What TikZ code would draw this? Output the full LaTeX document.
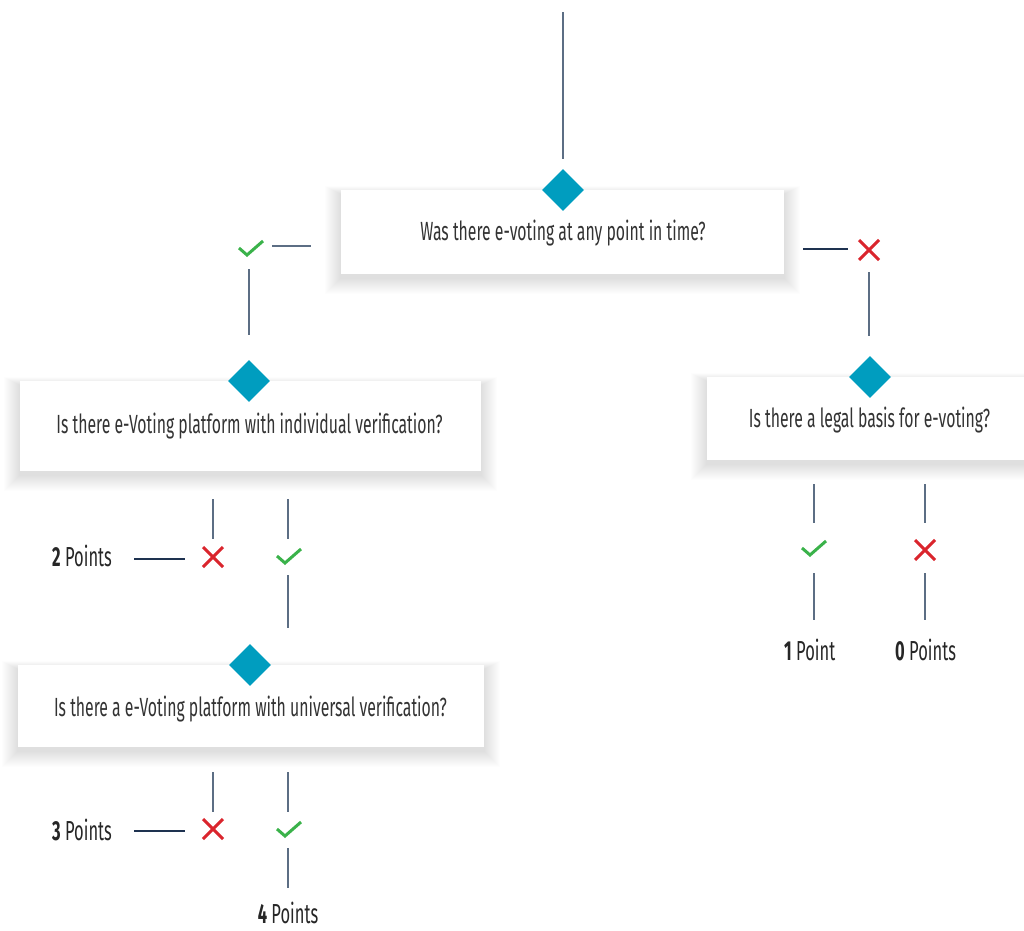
\documentclass[tikz,border=0pt]{standalone}
\usepackage{fontspec}
\setmainfont[FakeStretch=0.6]{Fira Sans}
\usetikzlibrary{shapes.geometric}
\definecolor{teal}{RGB}{0,157,191}
\definecolor{okgreen}{RGB}{58,178,74}
\definecolor{nored}{RGB}{218,37,45}
\definecolor{slate}{RGB}{92,110,132}
\definecolor{navy}{RGB}{30,50,80}
\definecolor{txt}{RGB}{51,51,51}
\tikzset{
  conn/.style={draw=slate, line width=1.6pt},
  hconn/.style={draw=navy, line width=1.4pt},
  qbox/.style={rectangle, fill=white, inner sep=0pt},
  dmd/.style={diamond, fill=teal, inner sep=0pt, minimum width=42pt, minimum height=42pt},
  qtext/.style={anchor=base, text=txt, inner sep=0pt, font=\fontsize{26.3}{31}\selectfont},
  ptext/.style={anchor=base west, text=black!85, inner sep=0pt, font=\fontsize{27.5}{32}\selectfont},
  chk/.pic={\draw[okgreen, line width=3pt] (-12,-1) -- (-4,6) -- (12,-8);},
  crs/.pic={\draw[nored, line width=3pt] (-10,-10) -- (10,10) (-10,10) -- (10,-10);}
}
\newcommand\softshadow[4]{%
  \foreach \i in {1,...,16}{%
    \fill[black, opacity=0.006] (#1-\i, #2-0.5*\i+4) rectangle (#3+\i, #4+\i+4);
  }%
}
\begin{document}
\begin{tikzpicture}[x=1pt, y=-1pt]
\useasboundingbox (0,0) rectangle (1024,930);
\clip (0,0) rectangle (1024,930);
% shadows
\softshadow{341}{190}{784}{274}
\softshadow{20}{381}{481}{471}
\softshadow{707}{377}{1040}{460}
\softshadow{18}{665}{484}{747}
% boxes
\node[qbox, minimum width=443pt, minimum height=84pt] (b1) at (562.5,232) {};
\node[qbox, minimum width=461pt, minimum height=90pt] (b2) at (250.5,426) {};
\node[qbox, minimum width=333pt, minimum height=83pt] (b3) at (873.5,418.5) {};
\node[qbox, minimum width=466pt, minimum height=82pt] (b4) at (251,706) {};
% diamonds
\node[dmd] (d1) at (563,190) {};
\node[dmd] (d2) at (249,381) {};
\node[dmd] (d3) at (870,377) {};
\node[dmd] (d4) at (250,665) {};
% texts
\node[qtext] (t1) at (563,240) {Was there e-voting at any point in time?};
\node[qtext] (t2) at (249.5,433) {Is there e-Voting platform with individual verification?};
\node[qtext] (t3) at (869.5,427) {Is there a legal basis for e-voting?};
\node[qtext] (t4) at (250.5,716) {Is there a e-Voting platform with universal verification?};
% marks
\coordinate (m1) at (251,249);
\coordinate (m2) at (869,250);
\coordinate (m3) at (213,557);
\coordinate (m4) at (289,557);
\coordinate (m5) at (814,549);
\coordinate (m6) at (925,550);
\coordinate (m7) at (213,829);
\coordinate (m8) at (289,830);
\pic at (m1) {chk};
\pic at (m2) {crs};
\pic at (m3) {crs};
\pic at (m4) {chk};
\pic at (m5) {chk};
\pic at (m6) {crs};
\pic at (m7) {crs};
\pic at (m8) {chk};
% point labels
\node[ptext] (p2) at (52,566) {\textbf{2} Points};
\node[ptext] (p1) at (784,660) {\textbf{1} Point};
\node[ptext] (p0) at (895,660) {\textbf{0} Points};
\node[ptext] (p3) at (52,840) {\textbf{3} Points};
\node[ptext, anchor=base] (p4) at (288,923) {\textbf{4} Points};
% connector end points
\coordinate (top) at (563,12);
\coordinate (a1) at (563,159);
\coordinate (a2) at (272,246); \coordinate (a3) at (311,246);
\coordinate (a4) at (249,269); \coordinate (a5) at (249,335);
\coordinate (a6) at (803,249); \coordinate (a7) at (848,249);
\coordinate (a8) at (869,272); \coordinate (a9) at (869,336);
\coordinate (e1) at (213,499); \coordinate (e2) at (213,539);
\coordinate (e3) at (288,499); \coordinate (e4) at (288,539);
\coordinate (e5) at (134,559); \coordinate (e6) at (185,559);
\coordinate (e7) at (288,575); \coordinate (e8) at (288,628);
\coordinate (f1) at (213,772); \coordinate (f2) at (213,812);
\coordinate (f3) at (288,772); \coordinate (f4) at (288,812);
\coordinate (f5) at (134,831); \coordinate (f6) at (185,831);
\coordinate (f7) at (288,848); \coordinate (f8) at (288,888);
\coordinate (g1) at (814,484); \coordinate (g2) at (814,523);
\coordinate (g3) at (925,484); \coordinate (g4) at (925,523);
\coordinate (g5) at (814,573); \coordinate (g6) at (814,620);
\coordinate (g7) at (925,573); \coordinate (g8) at (925,620);
% connectors
\draw[conn] (top) -- (a1);
\draw[conn] (a2) -- (a3);
\draw[conn] (a4) -- (a5);
\draw[hconn] (a6) -- (a7);
\draw[conn] (a8) -- (a9);
\draw[conn] (e1) -- (e2);
\draw[conn] (e3) -- (e4);
\draw[hconn] (e5) -- (e6);
\draw[conn] (e7) -- (e8);
\draw[conn] (f1) -- (f2);
\draw[conn] (f3) -- (f4);
\draw[hconn] (f5) -- (f6);
\draw[conn] (f7) -- (f8);
\draw[conn] (g1) -- (g2);
\draw[conn] (g3) -- (g4);
\draw[conn] (g5) -- (g6);
\draw[conn] (g7) -- (g8);
\end{tikzpicture}
\end{document}
